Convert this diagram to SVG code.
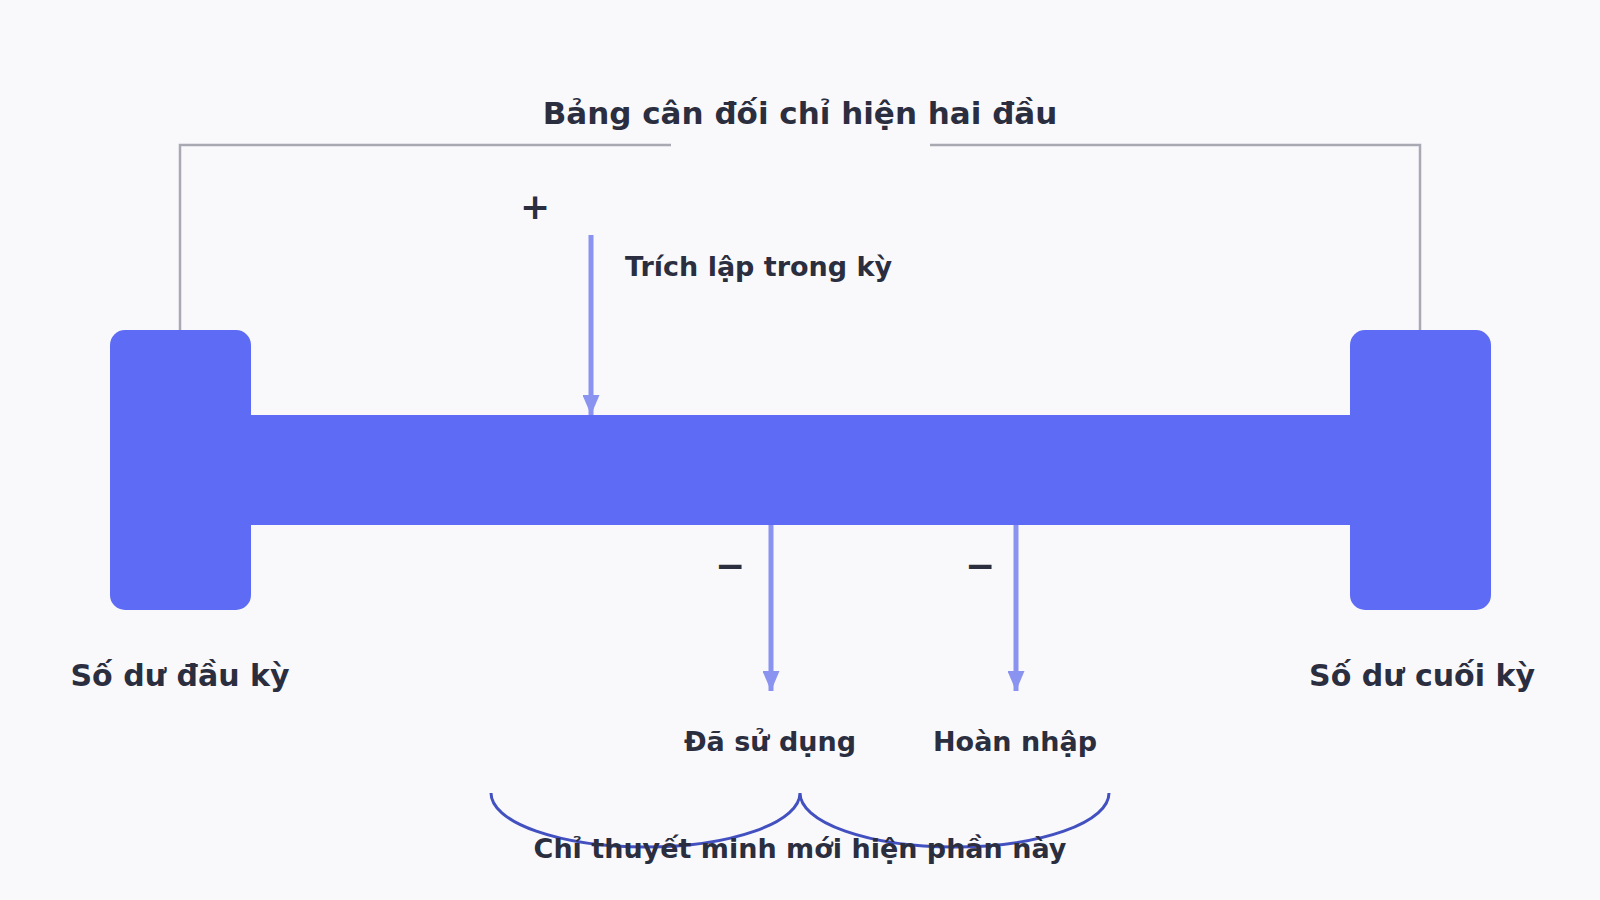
<svg xmlns="http://www.w3.org/2000/svg" width="1600" height="900" viewBox="0 0 1600 900">
  <defs>
    <marker id="ah" viewBox="0 0 20 17" refX="20" refY="8.5" markerWidth="20" markerHeight="17" markerUnits="userSpaceOnUse" orient="auto">
      <path d="M0,0 L20,8.5 L0,17 Z" fill="#8a93ef"/>
    </marker>
  </defs>
  <style>
    .lbl { font-family: "DejaVu Sans", "Liberation Sans", sans-serif; font-weight: bold; fill: #2b2e3f; }
    .node { fill: #5d6bf5; }
    .flow { stroke: #8a93ef; stroke-width: 5; fill: none; }
    .bracket { stroke: #a9a9b4; stroke-width: 2.5; fill: none; }
    .brace { stroke: #4350c0; stroke-width: 3; fill: none; }
  </style>
  <rect x="0" y="0" width="1600" height="900" fill="#f9f9fc"/>

  <g id="connectors">
    <path class="bracket" d="M180,330 V145 H671 M930,145 H1420 V330"/>
    <line class="flow" x1="591" y1="235" x2="591" y2="415" marker-end="url(#ah)"/>
    <line class="flow" x1="771" y1="525" x2="771" y2="691" marker-end="url(#ah)"/>
    <line class="flow" x1="1016" y1="525" x2="1016" y2="691" marker-end="url(#ah)"/>
    <path class="brace" d="M491,793 A154.5,54 0 0 0 800,793 A154.5,54 0 0 0 1109,793"/>
  </g>

  <g id="bar">
    <rect class="node" x="245" y="415" width="1110" height="110"/>
  </g>
  <g id="node-start">
    <rect class="node" x="110" y="330" width="141" height="280" rx="15" ry="15"/>
    <text class="lbl" x="180" y="686" font-size="30" text-anchor="middle">Số dư đầu kỳ</text>
  </g>
  <g id="node-end">
    <rect class="node" x="1350" y="330" width="141" height="280" rx="15" ry="15"/>
    <text class="lbl" x="1422" y="686" font-size="30" text-anchor="middle">Số dư cuối kỳ</text>
  </g>

  <g id="title">
    <text class="lbl" x="800" y="124" font-size="31" text-anchor="middle">Bảng cân đối chỉ hiện hai đầu</text>
  </g>
  <g id="label-add">
    <text class="lbl" x="535" y="219" font-size="36" text-anchor="middle">+</text>
    <text class="lbl" x="625" y="276" font-size="27">Trích lập trong kỳ</text>
  </g>
  <g id="label-used">
    <text class="lbl" x="730" y="578" font-size="36" text-anchor="middle">−</text>
    <text class="lbl" x="770" y="751" font-size="27" text-anchor="middle">Đã sử dụng</text>
  </g>
  <g id="label-reversal">
    <text class="lbl" x="980" y="578" font-size="36" text-anchor="middle">−</text>
    <text class="lbl" x="1015" y="751" font-size="27" text-anchor="middle">Hoàn nhập</text>
  </g>
  <g id="note">
    <text class="lbl" x="800" y="858" font-size="27" text-anchor="middle">Chỉ thuyết minh mới hiện phần này</text>
  </g>
</svg>
